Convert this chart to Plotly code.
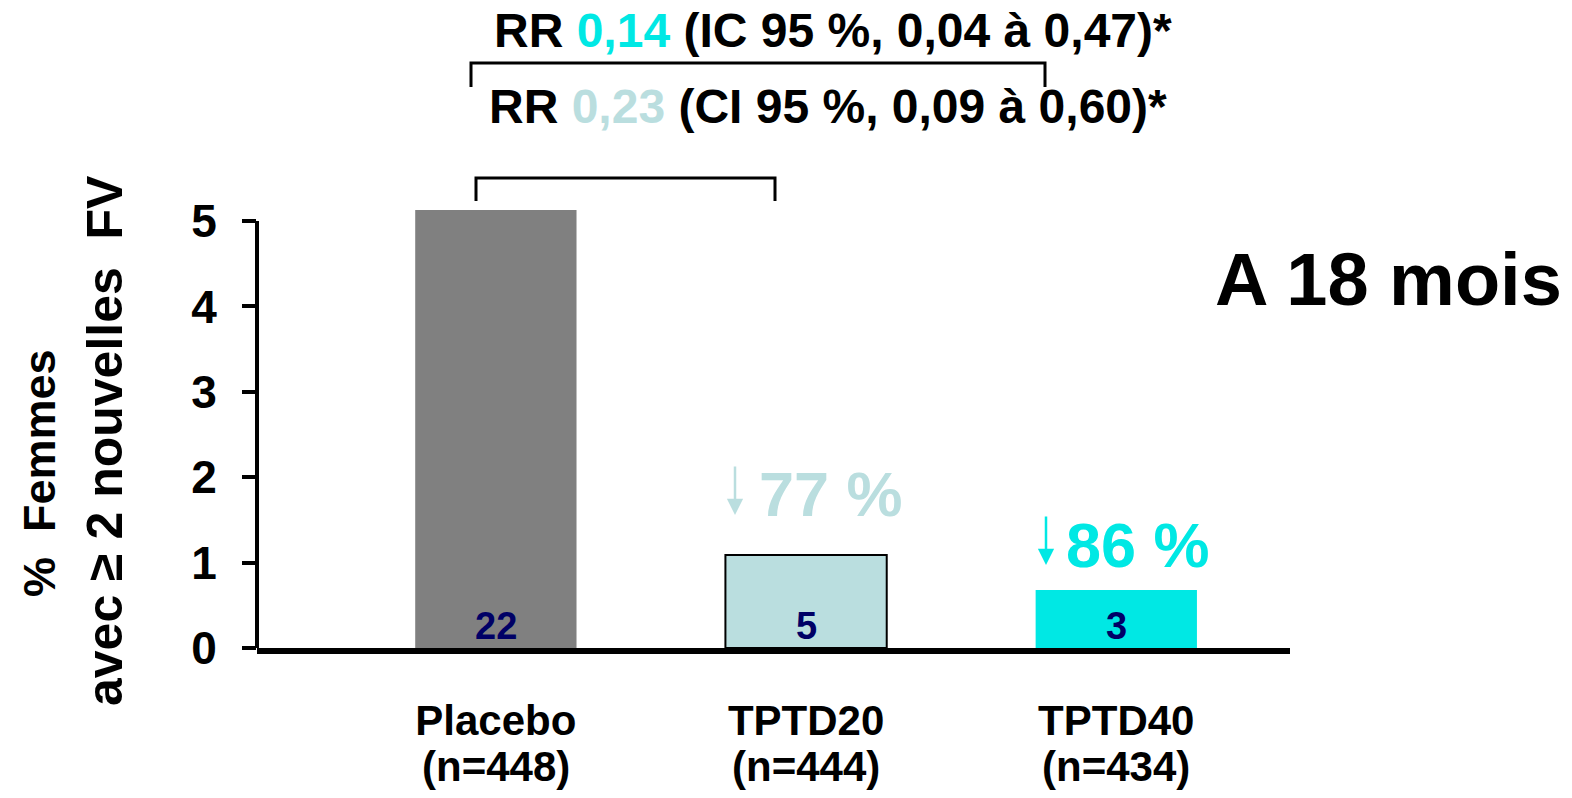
import plotly.graph_objects as go

# ---- data ----
categories = ["Placebo", "TPTD20", "TPTD40"]
n_patients = [448, 444, 434]
pct_values = [5.13, 1.09, 0.68]
counts = [22, 5, 3]
bar_colors = ["#808080", "#BADEDF", "#00E8E4"]
bar_line_widths = [0, 2, 0]
y_ticks = [0, 1, 2, 3, 4, 5]
reductions = ["77 %", "86 %"]
reduction_colors = ["#BADEDF", "#00E8E4"]

FONT = "Liberation Sans, Arial, sans-serif"
W, H = 1572, 798
L, R, T, B = 257, 282, 204, 150
PW, PH = W - L - R, H - T - B


def px(xp):
    return (xp - L) / PW


def py(yp):
    return (H - B - yp) / PH


xs = list(range(len(categories)))

fig = go.Figure()
fig.add_trace(go.Bar(
    x=xs, y=pct_values, width=0.52,
    marker=dict(color=bar_colors, line=dict(color="black", width=bar_line_widths)),
    hoverinfo="skip",
))

annotations = []
# counts at bottom of bars
for xi, c in zip(xs, counts):
    annotations.append(dict(x=xi, y=0, xref="x", yref="y", text=str(c), showarrow=False,
                            yanchor="bottom", yshift=-1,
                            font=dict(family=FONT, size=38, color="#000066", weight="bold")))
# n below category names
for xi, n in zip(xs, n_patients):
    annotations.append(dict(x=xi, y=py(766), xref="x", yref="paper", text=f"(n={n})",
                            showarrow=False, yanchor="middle",
                            font=dict(family=FONT, size=42, color="black", weight="bold")))

# reductions
red_pos = [(735, 515, 831, 494), (1046, 565, 1138, 545)]
for (axp, ayp, tx, ty), txt, col in zip(red_pos, reductions, reduction_colors):
    annotations.append(dict(x=px(axp), y=py(ayp), xref="paper", yref="paper", text="",
                            showarrow=True, ax=0, ay=-50, arrowhead=2, arrowsize=1.3,
                            arrowwidth=2.5, arrowcolor=col))
    annotations.append(dict(x=px(tx), y=py(ty), xref="paper", yref="paper", text=txt,
                            showarrow=False, xanchor="center", yanchor="middle",
                            font=dict(family=FONT, size=63, color=col, weight="bold")))

# A 18 mois
annotations.append(dict(x=px(1388), y=py(279), xref="paper", yref="paper", text="A 18 mois",
                        showarrow=False, xanchor="center", yanchor="middle",
                        font=dict(family=FONT, size=74, color="black", weight="bold")))

# RR texts
annotations.append(dict(x=px(833), y=py(30), xref="paper", yref="paper",
                        text="RR <span style='color:#00E8E4'>0,14</span> (IC 95 %, 0,04 à 0,47)*",
                        showarrow=False, xanchor="center", yanchor="middle",
                        font=dict(family=FONT, size=48, color="black", weight="bold")))
annotations.append(dict(x=px(828), y=py(107), xref="paper", yref="paper",
                        text="RR <span style='color:#BADEDF'>0,23</span> (CI 95 %, 0,09 à 0,60)*",
                        showarrow=False, xanchor="center", yanchor="middle",
                        font=dict(family=FONT, size=48, color="black", weight="bold")))

# y title (two lines)
annotations.append(dict(x=px(40), y=py(473), xref="paper", yref="paper", text="%  Femmes",
                        showarrow=False, textangle=-90, xanchor="center", yanchor="middle",
                        font=dict(family=FONT, size=45, color="black", weight="bold")))
annotations.append(dict(x=px(105), y=py(441), xref="paper", yref="paper",
                        text="avec ≥ 2 nouvelles  FV",
                        showarrow=False, textangle=-90, xanchor="center", yanchor="middle",
                        font=dict(family=FONT, size=50, color="black", weight="bold")))

shapes = []
line = dict(color="black", width=3)
# upper bracket
shapes.append(dict(type="path", xref="paper", yref="paper",
                   path=f"M {px(471)} {py(87)} L {px(471)} {py(63)} L {px(1045)} {py(63)} L {px(1045)} {py(87)}",
                   line=line))
# lower bracket
shapes.append(dict(type="path", xref="paper", yref="paper",
                   path=f"M {px(476)} {py(201)} L {px(476)} {py(178)} L {px(775)} {py(178)} L {px(775)} {py(201)}",
                   line=line))
# y axis line from 0 to 5
shapes.append(dict(type="line", xref="paper", yref="y", x0=0, x1=0, y0=0, y1=max(y_ticks),
                   line=dict(color="black", width=4)))

fig.update_layout(
    width=W, height=H,
    margin=dict(l=L, r=R, t=T, b=B, pad=0),
    paper_bgcolor="white", plot_bgcolor="white",
    showlegend=False,
    annotations=annotations,
    shapes=shapes,
    xaxis=dict(range=[-0.77, 2.56], tickvals=xs, ticktext=categories, showgrid=False,
               zeroline=False, showline=True, linecolor="black", linewidth=6, ticks="",
               ticklabelstandoff=31,
               tickfont=dict(family=FONT, size=42, color="black", weight="bold")),
    yaxis=dict(range=[0, 5.2], tickvals=y_ticks, showgrid=False, zeroline=False,
               showline=False, ticks="outside", ticklen=14, tickwidth=4, tickcolor="black",
               ticklabelstandoff=16,
               tickfont=dict(family=FONT, size=46, color="black", weight="bold")),
)

fig.write_html("out.html", config={"displayModeBar": False},
               post_script="document.body.style.margin='0';document.body.style.overflow='hidden';")
